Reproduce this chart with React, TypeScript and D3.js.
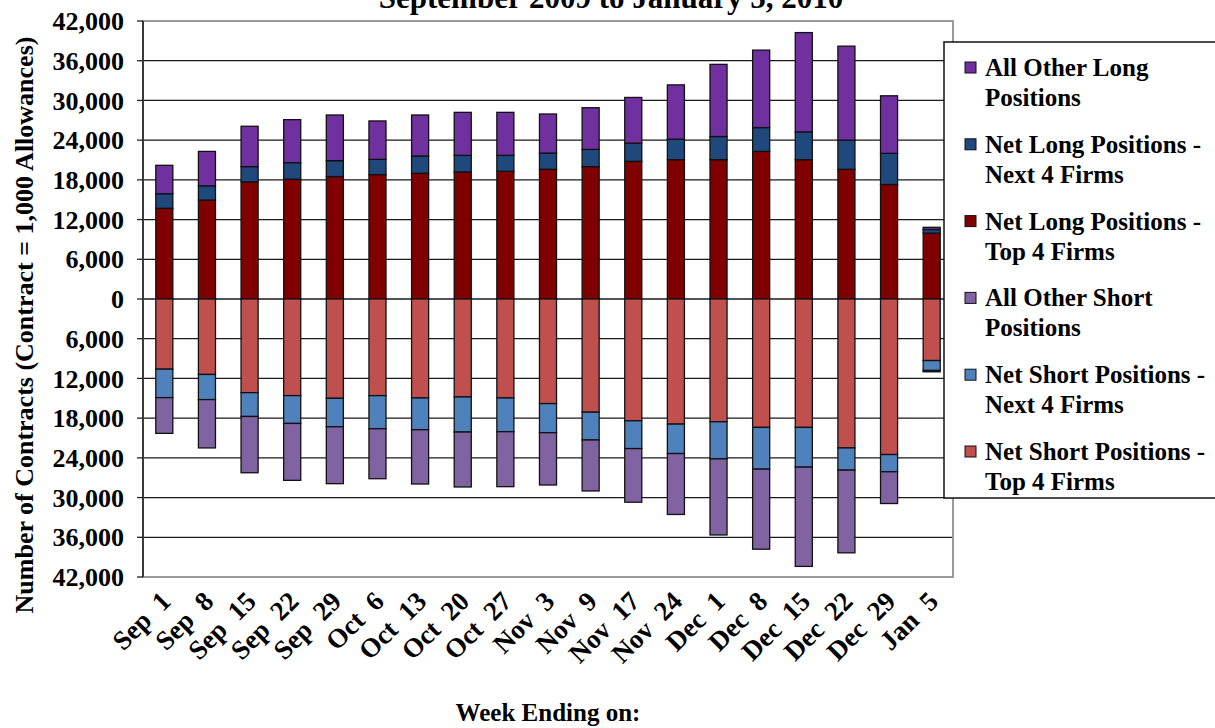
import React, { useEffect, useRef } from 'react'
import * as d3 from 'd3'

// week ending dates (Sep 2009 - Jan 2010)
const weeks = [
  'Sep  1', 'Sep  8', 'Sep  15', 'Sep  22', 'Sep  29', 'Oct  6', 'Oct  13', 'Oct  20', 'Oct  27',
  'Nov  3', 'Nov  9', 'Nov  17', 'Nov  24', 'Dec  1', 'Dec  8', 'Dec  15', 'Dec  22', 'Dec  29', 'Jan  5',
]

// long side (contracts)
const netLongTop4 = [13700, 14950, 17700, 18100, 18500, 18800, 19000, 19200, 19300, 19600, 20000, 20800, 21050, 21050, 22300, 21050, 19600, 17300, 9950]
const netLongNext4 = [2200, 2150, 2300, 2500, 2400, 2300, 2600, 2500, 2400, 2450, 2600, 2750, 3100, 3500, 3600, 4200, 4400, 4700, 550]
const allOtherLong = [4300, 5200, 6100, 6500, 6900, 5800, 6200, 6500, 6500, 5900, 6300, 6900, 8200, 10900, 11700, 15000, 14200, 8700, 330]

// short side (contracts, drawn below zero)
const netShortTop4 = [10600, 11400, 14150, 14600, 15000, 14600, 14950, 14800, 14950, 15800, 17100, 18400, 18900, 18550, 19400, 19400, 22500, 23500, 9300]
const netShortNext4 = [4300, 3800, 3600, 4200, 4300, 5000, 4800, 5300, 5100, 4400, 4200, 4200, 4450, 5600, 6300, 6000, 3350, 2600, 1500]
const allOtherShort = [5400, 7300, 8500, 8600, 8600, 7550, 8200, 8300, 8300, 7900, 7700, 8100, 9200, 11500, 12100, 15000, 12500, 4800, 200]

const yTicks = d3.range(-42000, 42001, 6000)

const seriesKeys = ['netLongTop4', 'netLongNext4', 'allOtherLong', 'netShortTop4', 'netShortNext4', 'allOtherShort']
const seriesColors: { [k: string]: string } = {
  netLongTop4: '#800000',
  netLongNext4: '#1F497D',
  allOtherLong: '#7030A0',
  netShortTop4: '#C0504D',
  netShortNext4: '#4F81BD',
  allOtherShort: '#8064A2',
}

// legend order as in the original
const legendItems = [
  { key: 'allOtherLong', lines: ['All Other Long', 'Positions'] },
  { key: 'netLongNext4', lines: ['Net Long Positions -', 'Next 4 Firms'] },
  { key: 'netLongTop4', lines: ['Net Long Positions -', 'Top 4 Firms'] },
  { key: 'allOtherShort', lines: ['All Other Short', 'Positions'] },
  { key: 'netShortNext4', lines: ['Net Short Positions -', 'Next 4 Firms'] },
  { key: 'netShortTop4', lines: ['Net Short Positions -', 'Top 4 Firms'] },
]

const FONT = '"Times New Roman", "Liberation Serif", serif'

export default function App() {
  const svgRef = useRef<SVGSVGElement>(null)

  useEffect(() => {
    if (!svgRef.current) return
    const svg = d3.select(svgRef.current)
    svg.selectAll('*').remove()

    const left = 143, right = 953, top = 21, bottom = 577

    const x = d3.scaleBand<string>()
      .domain(weeks)
      .range([left, right])
      .paddingInner(0.6)
      .paddingOuter(0.3)

    const y = d3.scaleLinear().domain([-42000, 42000]).range([bottom, top])

    const rows = weeks.map((w, i) => ({
      week: w,
      netLongTop4: netLongTop4[i],
      netLongNext4: netLongNext4[i],
      allOtherLong: allOtherLong[i],
      netShortTop4: -netShortTop4[i],
      netShortNext4: -netShortNext4[i],
      allOtherShort: -allOtherShort[i],
    }))

    const stacked = d3.stack<any>()
      .keys(seriesKeys)
      .offset(d3.stackOffsetDiverging)(rows)

    // gridlines
    svg.append('g')
      .selectAll('line')
      .data(yTicks)
      .join('line')
      .attr('x1', left)
      .attr('x2', right)
      .attr('y1', d => y(d))
      .attr('y2', d => y(d))
      .attr('stroke', '#1a1a1a')
      .attr('stroke-width', 1.3)

    // plot border
    svg.append('rect')
      .attr('x', left)
      .attr('y', top)
      .attr('width', right - left)
      .attr('height', bottom - top)
      .attr('fill', 'none')
      .attr('stroke', '#9a9a9a')
      .attr('stroke-width', 2)

    // bars
    svg.append('g')
      .selectAll('g')
      .data(stacked)
      .join('g')
      .attr('fill', d => seriesColors[d.key])
      .selectAll('rect')
      .data(d => d)
      .join('rect')
      .attr('x', d => x(d.data.week)!)
      .attr('width', x.bandwidth())
      .attr('y', d => y(Math.max(d[0], d[1])))
      .attr('height', d => Math.abs(y(d[0]) - y(d[1])))
      .attr('stroke', '#111')
      .attr('stroke-width', 1.3)

    // left axis
    const axis = svg.append('g')
    axis.append('line')
      .attr('x1', left).attr('x2', left)
      .attr('y1', top).attr('y2', bottom)
      .attr('stroke', '#222').attr('stroke-width', 1.6)
    axis.selectAll('line.tick')
      .data(yTicks)
      .join('line')
      .attr('class', 'tick')
      .attr('x1', left - 6).attr('x2', left)
      .attr('y1', d => y(d)).attr('y2', d => y(d))
      .attr('stroke', '#222').attr('stroke-width', 1.3)
    axis.selectAll('text')
      .data(yTicks)
      .join('text')
      .attr('x', 124)
      .attr('y', d => y(d))
      .attr('dy', '0.35em')
      .attr('text-anchor', 'end')
      .style('font-family', FONT)
      .style('font-weight', 'bold')
      .style('font-size', '26px')
      .text(d => d3.format(',')(Math.abs(d)))

    // x labels, rotated
    svg.append('g')
      .selectAll('text')
      .data(weeks)
      .join('text')
      .attr('transform', d => `translate(${x(d)! + x.bandwidth() / 2 + 8},603) rotate(-45)`)
      .attr('text-anchor', 'end')
      .style('font-family', FONT)
      .style('font-weight', 'bold')
      .style('font-size', '27px')
      .style('white-space', 'pre')
      .text(d => d)

    // axis titles
    svg.append('text')
      .attr('transform', `translate(24,325) rotate(-90)`)
      .attr('dy', '0.35em')
      .attr('text-anchor', 'middle')
      .style('font-family', FONT)
      .style('font-weight', 'bold')
      .style('font-size', '26px')
      .text('Number of Contracts (Contract = 1,000 Allowances)')

    svg.append('text')
      .attr('x', (left + right) / 2)
      .attr('y', 721)
      .attr('text-anchor', 'middle')
      .style('font-family', FONT)
      .style('font-weight', 'bold')
      .style('font-size', '25px')
      .text('Week Ending on:')

    // chart title (top clipped as in source)
    svg.append('text')
      .attr('x', 611)
      .attr('y', 8)
      .attr('text-anchor', 'middle')
      .style('font-family', FONT)
      .style('font-weight', 'bold')
      .style('font-size', '31px')
      .text('September 2009 to January 5, 2010')

    // legend
    const lg = svg.append('g')
    lg.append('rect')
      .attr('x', 944)
      .attr('y', 42)
      .attr('width', 300)
      .attr('height', 456)
      .attr('fill', '#fff')
      .attr('stroke', '#111')
      .attr('stroke-width', 1.5)

    const items = lg.selectAll('g')
      .data(legendItems)
      .join('g')
      .attr('transform', (_, i) => `translate(0,${i * 76.8})`)

    items.append('rect')
      .attr('x', 965)
      .attr('y', 62)
      .attr('width', 11)
      .attr('height', 11)
      .attr('fill', d => seriesColors[d.key])
      .attr('stroke', '#111')
      .attr('stroke-width', 1)

    items.each(function (d) {
      const t = d3.select(this).append('text')
        .style('font-family', FONT)
        .style('font-weight', 'bold')
        .style('font-size', '25px')
      d.lines.forEach((line, j) => {
        t.append('tspan')
          .attr('x', 985)
          .attr('y', 76 + j * 30)
          .text(line)
      })
    })
  }, [])

  return (
    <div style={{ position: 'absolute', left: 0, top: 0 }}>
      <svg ref={svgRef} width={1215} height={728} style={{ display: 'block', background: '#fff' }} />
    </div>
  )
}
